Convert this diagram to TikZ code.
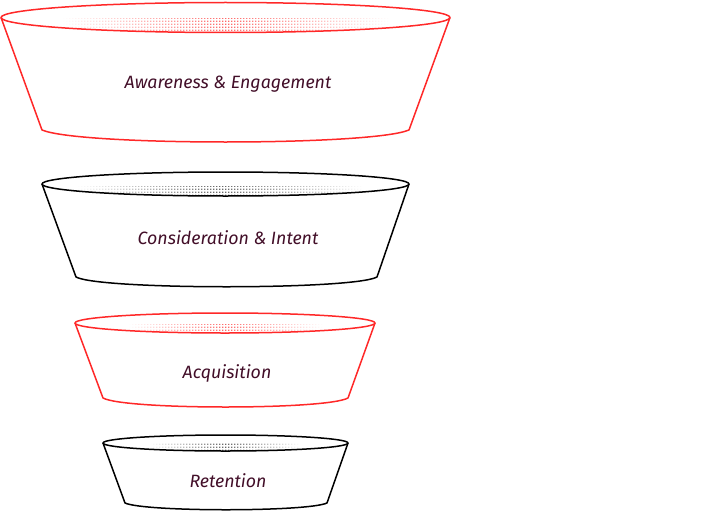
\documentclass[tikz,border=0pt]{standalone}
\usepackage{xcolor}
\usepackage{fontspec}
\usepackage{tikz}
\usetikzlibrary{patterns, patterns.meta, fadings, positioning, calc}
\newfontfamily\handfont{Fira Sans}
\definecolor{funred}{RGB}{255,40,40}
\definecolor{funtext}{RGB}{66,14,40}
\tikzfading[name=fade sides, left color=transparent!100, right color=transparent!100, middle color=transparent!0]
\tikzdeclarepattern{name=sqdots, type=uncolored, bottom left={(0pt,0pt)}, top right={(3pt,3pt)}, tile size={(3pt,3pt)},
	code={\fill (0pt,0pt) rectangle (1.7pt,1.7pt);}}

\begin{document}
\begin{tikzpicture}[x=1pt, y=-1pt,
		rim/.style={line width=1.5pt, line join=round},
		dotband/.style={pattern=sqdots, path fading=fade sides},
		stage/.style={text=funtext, font=\handfont\itshape\fontsize{17.8}{20}\selectfont}]
			\useasboundingbox (0,0) rectangle (706,511);
			
			% awareness
			\begin{scope}
				\clip (225.5,17.5) ellipse [x radius=224.5, y radius=15];
				\fill [dotband, pattern color=funred!70] (62,19) rectangle (390,33);
			\end{scope}
			\draw [rim, funred] (1,17.5) -- (42,130) .. controls (80,146) and (371,146) .. (409,130) -- (450,17.5);
			\draw [rim, funred] (225.5,17.5) ellipse [x radius=224.5, y radius=15];
			\node [stage] (aware) at (228,84) {Awareness \& Engagement};
			
			% consideration
			\begin{scope}
				\clip (225.5,184) ellipse [x radius=183.5, y radius=12];
				\fill [dotband, pattern color=black!60] (77,186) rectangle (363,197);
			\end{scope}
			\draw [rim, black] (42,184) -- (76,277) .. controls (100,290) and (353,290) .. (377,277) -- (409,184);
			\draw [rim, black] (225.5,184) ellipse [x radius=183.5, y radius=12];
			\node [stage] (consid) at (228,238) {Consideration \& Intent};
			
			% acquisition
			\begin{scope}
				\clip (225,323) ellipse [x radius=150, y radius=10];
				\fill [dotband, pattern color=funred!70] (128,324.5) rectangle (323,334);
			\end{scope}
			\draw [rim, funred] (75,323) -- (103,398) .. controls (125,410) and (326,410) .. (348,398) -- (375,323);
			\draw [rim, funred] (225,323) ellipse [x radius=150, y radius=10];
			\node [stage] (acq) at (227,373) {Acquisition};
			
			% retention
			\begin{scope}
				\clip (225.5,443) ellipse [x radius=122.5, y radius=8];
				\fill [dotband, pattern color=black!60] (150,443.5) rectangle (300,452);
			\end{scope}
			\draw [rim, black] (103,443) -- (125,503) .. controls (145,512) and (307,512) .. (327,503) -- (348,443);
			\draw [rim, black] (225.5,443) ellipse [x radius=122.5, y radius=8];
			\node [stage] (ret) at (228,481) {Retention};
\end{tikzpicture}
\end{document}
